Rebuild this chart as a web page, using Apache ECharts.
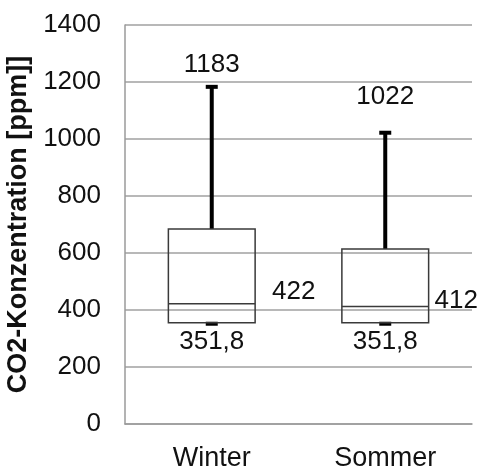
<!DOCTYPE html>
<html>
<head>
<meta charset="utf-8">
<script src="https://cdn.jsdelivr.net/npm/echarts@6/dist/echarts.min.js"></script>
<style>
  html, body { margin: 0; padding: 0; background: #ffffff; }
  #chart { width: 481px; height: 468px; }
</style>
</head>
<body>
<div id="chart"></div>
<script>
// Box-plot statistics of CO2 concentration per season
const categories = ['Winter', 'Sommer'];
const minValues = [351.8, 351.8];
const q1Values = [355, 355];
const medianValues = [422, 412];
const q3Values = [684, 614];
const maxValues = [1183, 1022];

// Pixel offsets of the value labels for each category
const labelLayout = {
  max: [[0, -22], [0, -36]],
  median: [[82, -12], [71, -6]],
  min: [[0, 18], [0, 18]]
};

const FONT = "'Liberation Sans', Arial, sans-serif";
const fmt = v => String(v).replace('.', ',');

const boxData = categories.map((c, i) => [
  i, minValues[i], q1Values[i], medianValues[i], q3Values[i], maxValues[i]
]);

function label(text, x, y) {
  return {
    type: 'text',
    style: {
      text: text, x: x, y: y,
      align: 'center', verticalAlign: 'middle',
      fill: '#111111', font: '26px ' + FONT
    }
  };
}

function renderBox(params, api) {
  const i = api.value(0);
  const x = api.coord([i, 0])[0];
  const yMin = api.coord([i, api.value(1)])[1];
  const yQ1 = api.coord([i, api.value(2)])[1];
  const yMed = api.coord([i, api.value(3)])[1];
  const yQ3 = api.coord([i, api.value(4)])[1];
  const yMax = api.coord([i, api.value(5)])[1];
  const bw = api.size([1, 0])[0] * 0.5;
  const capW = 12, capH = 4;
  return {
    type: 'group',
    children: [
      { type: 'line', shape: { x1: x, y1: yQ3, x2: x, y2: yMax }, style: { stroke: '#000', lineWidth: 4 } },
      { type: 'line', shape: { x1: x, y1: yQ1, x2: x, y2: yMin }, style: { stroke: '#000', lineWidth: 4 } },
      { type: 'rect', shape: { x: x - capW / 2, y: yMax - capH / 2, width: capW, height: capH }, style: { fill: '#000' } },
      { type: 'rect', shape: { x: x - capW / 2, y: yMin - capH / 2, width: capW, height: capH }, style: { fill: '#000' } },
      { type: 'rect', shape: { x: x - bw / 2, y: yQ3, width: bw, height: yQ1 - yQ3 },
        style: { fill: 'none', stroke: '#3a3a3a', lineWidth: 1.5 } },
      { type: 'line', shape: { x1: x - bw / 2, y1: yMed, x2: x + bw / 2, y2: yMed },
        style: { stroke: '#3a3a3a', lineWidth: 1.5 } },
      label(fmt(api.value(5)), x + labelLayout.max[i][0], yMax + labelLayout.max[i][1]),
      label(fmt(api.value(3)), x + labelLayout.median[i][0], yMed + labelLayout.median[i][1]),
      label(fmt(api.value(1)), x + labelLayout.min[i][0], yMin + labelLayout.min[i][1])
    ]
  };
}

const chart = echarts.init(document.getElementById('chart'));
chart.setOption({
  animation: false,
  backgroundColor: '#ffffff',
  grid: { left: 125, right: 9, top: 25, bottom: 44, outerBoundsMode: 'none', containLabel: false },
  xAxis: {
    type: 'category',
    data: categories,
    axisLine: { show: true, lineStyle: { color: '#9a9a9a', width: 1.5 } },
    axisTick: { show: false },
    axisLabel: { color: '#111111', fontSize: 27, fontFamily: FONT, margin: 21 }
  },
  yAxis: {
    type: 'value',
    min: 0, max: 1400, interval: 200,
    name: 'CO2-Konzentration [ppm]]',
    nameLocation: 'middle',
    nameGap: 90,
    nameTextStyle: { color: '#111111', fontSize: 27, fontWeight: 'bold', fontFamily: FONT },
    axisLine: { show: true, lineStyle: { color: '#9a9a9a', width: 1.5 } },
    axisTick: { show: false },
    axisLabel: { color: '#111111', fontSize: 26, fontFamily: FONT, margin: 24, formatter: v => String(v) },
    splitLine: { show: true, lineStyle: { color: '#a0a0a0', width: 1.5 } }
  },
  series: [{
    type: 'custom',
    renderItem: renderBox,
    encode: { x: 0, y: [1, 2, 3, 4, 5] },
    data: boxData,
    clip: false
  }]
});
</script>
</body>
</html>
